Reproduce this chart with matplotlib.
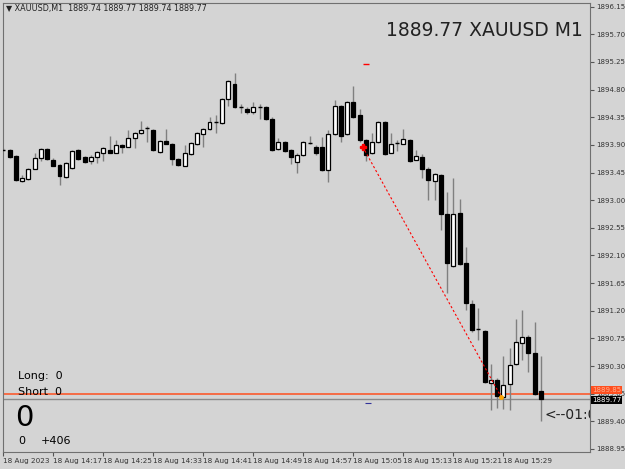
import numpy as np
import matplotlib.pyplot as plt
from matplotlib.patches import Rectangle
from matplotlib.transforms import blended_transform_factory

# XAUUSD M1 candles, 14:09 .. 15:35
opens = [1893.82, 1893.82, 1893.72, 1893.31, 1893.34, 1893.51, 1893.69, 1893.83, 1893.66, 1893.57,
         1893.38, 1893.52, 1893.82, 1893.70, 1893.64, 1893.70, 1893.77, 1893.82, 1893.77, 1893.90,
         1893.87, 1894.01, 1894.09, 1894.18, 1894.14, 1893.78, 1893.96, 1893.92, 1893.67, 1893.56,
         1893.75, 1893.92, 1894.08, 1894.16, 1894.27, 1894.26, 1894.65, 1894.89, 1894.52, 1894.49,
         1894.44, 1894.52, 1894.52, 1894.32, 1893.83, 1893.95, 1893.82, 1893.62, 1893.74, 1893.93,
         1893.87, 1893.87, 1893.49, 1894.08, 1894.53, 1894.08, 1894.60, 1894.39, 1893.98, 1893.77,
         1893.95, 1894.27, 1893.77, 1893.93, 1893.92, 1893.98, 1893.66, 1893.70, 1893.51, 1893.31,
         1893.41, 1892.77, 1891.93, 1892.79, 1891.98, 1891.31, 1890.90, 1890.87, 1890.02, 1890.07,
         1889.79, 1890.01, 1890.33, 1890.67, 1890.77, 1890.51, 1889.89]
closes = [1893.83, 1893.70, 1893.33, 1893.36, 1893.51, 1893.69, 1893.83, 1893.67, 1893.56, 1893.39,
          1893.60, 1893.80, 1893.67, 1893.62, 1893.70, 1893.78, 1893.85, 1893.77, 1893.90, 1893.87,
          1894.01, 1894.09, 1894.14, 1894.17, 1893.82, 1893.96, 1893.92, 1893.67, 1893.57, 1893.77,
          1893.93, 1894.09, 1894.16, 1894.27, 1894.28, 1894.65, 1894.94, 1894.52, 1894.53, 1894.44,
          1894.52, 1894.52, 1894.32, 1893.82, 1893.95, 1893.80, 1893.70, 1893.74, 1893.95, 1893.94,
          1893.77, 1893.49, 1894.08, 1894.53, 1894.05, 1894.60, 1894.35, 1893.98, 1893.74, 1893.95,
          1894.27, 1893.75, 1893.92, 1893.94, 1894.00, 1893.64, 1893.72, 1893.51, 1893.33, 1893.43,
          1892.77, 1891.98, 1892.77, 1891.96, 1891.33, 1890.89, 1890.89, 1890.04, 1890.07, 1889.81,
          1889.99, 1890.32, 1890.69, 1890.77, 1890.51, 1889.84, 1889.77]
highs = [1893.85, 1893.84, 1893.74, 1893.41, 1893.53, 1893.76, 1893.85, 1893.85, 1893.68, 1893.59,
         1893.62, 1893.82, 1893.83, 1893.72, 1893.74, 1893.80, 1893.87, 1894.05, 1893.98, 1893.91,
         1894.14, 1894.11, 1894.29, 1894.20, 1894.16, 1893.98, 1894.16, 1893.93, 1893.69, 1893.90,
         1893.95, 1894.11, 1894.18, 1894.35, 1894.38, 1894.67, 1894.96, 1895.07, 1894.57, 1894.52,
         1894.60, 1894.57, 1894.54, 1894.35, 1894.02, 1893.96, 1893.83, 1893.76, 1893.97, 1894.05,
         1893.90, 1894.03, 1894.14, 1894.63, 1894.55, 1894.62, 1894.86, 1894.49, 1894.00, 1894.09,
         1894.29, 1894.29, 1894.10, 1893.98, 1894.16, 1894.00, 1893.82, 1893.75, 1893.54, 1893.45,
         1893.43, 1893.13, 1893.36, 1893.02, 1892.24, 1891.37, 1891.25, 1890.89, 1890.33, 1890.11,
         1890.46, 1890.60, 1891.06, 1891.21, 1890.80, 1891.01, 1890.46]
lows = [1893.80, 1893.68, 1893.31, 1893.30, 1893.33, 1893.50, 1893.64, 1893.65, 1893.55, 1893.25,
        1893.36, 1893.50, 1893.65, 1893.60, 1893.59, 1893.61, 1893.64, 1893.76, 1893.76, 1893.77,
        1893.86, 1893.85, 1894.07, 1893.95, 1893.80, 1893.76, 1893.91, 1893.57, 1893.56, 1893.55,
        1893.74, 1893.90, 1893.86, 1894.15, 1894.09, 1894.24, 1894.53, 1894.50, 1894.42, 1894.41,
        1894.40, 1894.32, 1894.30, 1893.80, 1893.81, 1893.78, 1893.59, 1893.44, 1893.72, 1893.92,
        1893.74, 1893.48, 1893.30, 1894.06, 1893.95, 1894.06, 1894.33, 1893.95, 1893.64, 1893.75,
        1893.93, 1893.74, 1893.76, 1893.80, 1893.91, 1893.62, 1893.65, 1893.36, 1893.01, 1893.01,
        1892.51, 1891.49, 1891.91, 1891.94, 1891.21, 1890.85, 1890.73, 1890.02, 1889.59, 1889.62,
        1889.60, 1889.59, 1890.31, 1890.40, 1890.20, 1889.82, 1889.40]

price_ticks = [1896.15, 1895.70, 1895.25, 1894.80, 1894.35, 1893.90, 1893.45, 1893.00, 1892.55,
               1892.10, 1891.65, 1891.20, 1890.75, 1890.30, 1889.85, 1889.40, 1888.95]
time_labels = ["18 Aug 2023", "18 Aug 14:17", "18 Aug 14:25", "18 Aug 14:33", "18 Aug 14:41",
               "18 Aug 14:49", "18 Aug 14:57", "18 Aug 15:05", "18 Aug 15:13", "18 Aug 15:21",
               "18 Aug 15:29"]
time_idx = [0, 8, 16, 24, 32, 40, 48, 56, 64, 72, 80]

bid = 1889.77
line_price = 1889.84
trade_from = (57.5, 1893.87)
trade_to = (79.7, 1889.79)

bg = '#d4d4d4'
fig = plt.figure(figsize=(6.25, 4.69), dpi=100, facecolor=bg)
ax = fig.add_axes([3/625, 17/469, 587/625, 449/469], facecolor=bg)
ax.set_xlim(-0.05, 93.87)
ax.set_ylim(1888.90, 1896.21)

w = 0.62
for i in range(len(opens)):
    o, c, h, l = opens[i], closes[i], highs[i], lows[i]
    ax.vlines(i, l, h, color='#808080', lw=1, zorder=2)
    lo, hi = min(o, c), max(o, c)
    if hi - lo < 0.012:
        ax.hlines(o, i - w/2, i + w/2, color='black', lw=1, zorder=3)
    else:
        fc = 'white' if c > o else 'black'
        ax.add_patch(Rectangle((i - w/2, lo), w, hi - lo, facecolor=fc,
                               edgecolor='black', lw=0.9, zorder=3))

ax.axhline(line_price, color='#ff4f1f', lw=1.1, zorder=1)
ax.axhline(bid, color='#8a8a8a', lw=1, zorder=1)
ax.plot([trade_from[0], trade_to[0]], [trade_from[1], trade_to[1]], color='red',
        lw=0.8, ls=(0, (2, 2)), zorder=4)
ax.plot(trade_from[0], trade_from[1], marker='P', color='red', ms=4, zorder=5)
ax.plot(trade_to[0], trade_to[1], marker='o', color='orange', ms=2.5, zorder=5)
ax.hlines(1895.22, 57.6, 58.5, color='red', lw=1)
ax.hlines(1889.70, 57.9, 58.9, color='#333399', lw=0.8)

ax.yaxis.tick_right()
ax.set_yticks(price_ticks)
ax.set_yticklabels([f"{p:.2f}" for p in price_ticks], fontsize=5.0)
ax.set_xticks(time_idx)
ax.set_xticklabels(time_labels, fontsize=5.2, ha='left')
ax.tick_params(axis='both', length=3, width=0.8, colors='#555555', pad=1.5)
for lab in ax.get_xticklabels() + ax.get_yticklabels():
    lab.set_color('#333333')
for s in ax.spines.values():
    s.set_color('#707070')

tr = blended_transform_factory(ax.transAxes, ax.transData)
ax.text(1.003, line_price + 0.07, "1889.85", transform=tr, fontsize=5.0, color='#ffb090',
        va='center', ha='left', bbox=dict(boxstyle='square,pad=0.15', fc='#ff4f1f', ec='none'),
        clip_on=False)
ax.text(1.003, bid - 0.03, "1889.77", transform=tr, fontsize=5.0, color='white',
        va='center', ha='left', bbox=dict(boxstyle='square,pad=0.15', fc='black', ec='none'),
        clip_on=False)

fig.text(6/625, 1 - 8/469, "\u25bc XAUUSD,M1  1889.74 1889.77 1889.74 1889.77",
         fontsize=5.8, color='#222222', va='center')
fig.text(583/625, 1 - 30/469, "1889.77 XAUUSD M1", fontsize=13.5, color='#222222',
         va='center', ha='right')
fig.text(18/625, 1 - 376/469, "Long:  0", fontsize=8, va='center')
fig.text(18/625, 1 - 392/469, "Short  0", fontsize=8, va='center')
fig.text(15/625, 1 - 418/469, "0", fontsize=21, va='center')
fig.text(18/625, 1 - 441/469, "0", fontsize=8, va='center')
fig.text(41/625, 1 - 441/469, "+406", fontsize=8, va='center')
ax.text(542/587, 1889.50, "<--01:00", transform=tr, fontsize=10,
        color='#222222', va='center', clip_on=True)

fig.savefig("out.png", dpi=100, facecolor=bg)
